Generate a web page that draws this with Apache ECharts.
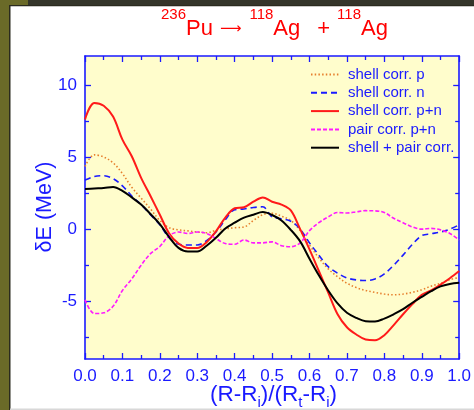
<!DOCTYPE html>
<html>
<head>
<meta charset="utf-8">
<script src="https://cdn.jsdelivr.net/npm/echarts@6/dist/echarts.min.js"></script>
<style>
  html, body { margin: 0; padding: 0; background: #ffffff; }
  #chart { width: 474px; height: 410px; }
</style>
</head>
<body>
<div id="chart"></div>
<script>
// Normalised separation (R-Ri)/(Rt-Ri)
const xs = [0.000, 0.025, 0.050, 0.075, 0.100, 0.125, 0.150, 0.175, 0.200, 0.225,
            0.250, 0.275, 0.300, 0.325, 0.350, 0.375, 0.400, 0.425, 0.450, 0.475,
            0.500, 0.525, 0.550, 0.575, 0.600, 0.625, 0.650, 0.675, 0.700, 0.725,
            0.750, 0.775, 0.800, 0.825, 0.850, 0.875, 0.900, 0.925, 0.950, 0.975, 1.000];

// Energy corrections in MeV
const shellP = [4.35, 5.15, 5.00, 4.60, 3.85, 2.90, 2.15, 1.40, 0.60, 0.10,
                -0.05, -0.12, -0.20, -0.25, -0.08, 0.02, 0.10, 0.15, 0.60, 1.00,
                1.10, 0.90, 0.60, -0.10, -1.10, -2.00, -2.75, -3.30, -3.75, -4.05,
                -4.25, -4.38, -4.50, -4.55, -4.50, -4.38, -4.20, -3.95, -3.75, -3.50, -3.35];

const shellN = [3.40, 3.65, 3.70, 3.50, 3.00, 2.30, 1.70, 1.00, 0.30, -0.60,
                -1.05, -1.10, -1.10, -0.80, -0.20, 0.65, 1.35, 1.40, 1.50, 1.55,
                0.85, 0.72, 0.55, 0.00, -0.95, -1.80, -2.60, -3.05, -3.38, -3.52,
                -3.56, -3.45, -3.10, -2.50, -1.80, -1.05, -0.45, -0.32, -0.20, 0.00, 0.30];

const shellPN = [7.60, 8.75, 8.55, 7.80, 6.20, 5.05, 3.55, 2.30, 1.00, -0.30,
                 -1.00, -1.30, -1.30, -0.90, -0.15, 0.80, 1.45, 1.52, 1.90, 2.20,
                 1.90, 1.70, 1.30, 0.00, -1.40, -2.90, -4.40, -5.90, -6.80, -7.30,
                 -7.65, -7.70, -7.35, -6.65, -5.90, -5.20, -4.55, -4.25, -3.85, -3.40, -2.90];

const pairPN = [-4.90, -5.85, -5.80, -5.35, -4.25, -3.45, -2.50, -1.70, -1.20, -0.45,
                -0.20, -0.30, -0.20, -0.30, -0.65, -1.00, -1.05, -0.75, -0.95, -0.95,
                -0.88, -1.15, -1.22, -0.95, -0.10, 0.45, 0.85, 1.15, 1.12, 1.20,
                1.28, 1.27, 1.15, 0.75, 0.45, 0.15, 0.00, 0.05, -0.05, -0.30, -0.75];

const total = [2.78, 2.82, 2.85, 2.92, 2.65, 2.20, 1.70, 1.05, 0.35, -0.55,
               -1.30, -1.55, -1.55, -1.15, -0.60, 0.05, 0.45, 0.80, 1.00, 1.18,
               0.98, 0.60, -0.05, -0.85, -2.05, -3.20, -4.25, -5.15, -5.80, -6.15,
               -6.38, -6.40, -6.20, -5.90, -5.55, -5.10, -4.70, -4.30, -3.97, -3.80, -3.72];

const seriesNames = ['shell corr. p', 'shell corr. n', 'shell corr. p+n', 'pair corr. p+n', 'shell + pair corr.'];
const yMajorTicks = [-5, 0, 5, 10];
const yMinorTicks = [-7.5, -2.5, 2.5, 7.5];

const AXIS_BLUE = '#1a1aff';
const FONT = '"Liberation Sans", Arial, Helvetica, sans-serif';

const pairs = ys => xs.map((x, i) => [x, ys[i]]);

const chart = echarts.init(document.getElementById('chart'), null, { renderer: 'canvas' });

function yAxisDef(pos, ticks, len, withLabels, withLine) {
  return {
    type: 'value', position: pos, min: -9, max: 12,
    axisLine: { show: withLine, onZero: false, lineStyle: { color: AXIS_BLUE, width: 1.6 } },
    axisTick: { show: true, inside: true, length: len, customValues: ticks,
                lineStyle: { color: AXIS_BLUE, width: 1.3 } },
    axisLabel: withLabels
      ? { show: true, customValues: ticks, color: AXIS_BLUE, fontSize: 17, fontFamily: FONT, margin: 8 }
      : { show: false },
    splitLine: { show: false }
  };
}

function xAxisDef(pos, withLabels) {
  return {
    type: 'value', position: pos, min: 0, max: 1, interval: 0.1,
    axisLine: { show: true, onZero: false, lineStyle: { color: AXIS_BLUE, width: 1.6 } },
    axisTick: { show: true, inside: true, length: 6, lineStyle: { color: AXIS_BLUE, width: 1.3 } },
    minorTick: { show: true, splitNumber: 2, length: 4, lineStyle: { color: AXIS_BLUE, width: 1.3 } },
    axisLabel: withLabels
      ? { show: true, color: AXIS_BLUE, fontSize: 17, fontFamily: FONT, margin: 9,
          formatter: v => v.toFixed(1) }
      : { show: false },
    splitLine: { show: false }
  };
}

const option = {
  animation: false,
  backgroundColor: '#ffffff',
  textStyle: { fontFamily: FONT },
  graphic: [
    // page frame
    { type: 'rect', shape: { x: 0, y: 0, width: 9, height: 410 }, style: { fill: '#6a6a28' } },
    { type: 'rect', shape: { x: 0, y: 0, width: 28, height: 5 }, style: { fill: '#6a6a28' } },
    { type: 'rect', shape: { x: 28, y: 0, width: 446, height: 5 }, style: { fill: '#34352a' } },
    { type: 'rect', shape: { x: 9, y: 5, width: 1.5, height: 405 }, style: { fill: '#2a2a1e' } },
    { type: 'rect', shape: { x: 9, y: 5, width: 465, height: 1.2 }, style: { fill: '#2a2a1e' } },
    { type: 'rect', shape: { x: 10, y: 408.5, width: 464, height: 1.5 }, style: { fill: '#d8d8d8' } },
    // reaction title
    {
      type: 'text', left: 161, top: 7,
      style: {
        text: '{s|236}{m|Pu}{a|⟶}{s|118}{m|Ag}{p|+}{s|118}{m|Ag}',
        rich: {
          m: { fontSize: 22, fill: '#ff0000', fontFamily: FONT, lineHeight: 33, verticalAlign: 'bottom' },
          s: { fontSize: 15, fill: '#ff0000', fontFamily: FONT, lineHeight: 33, verticalAlign: 'top' },
          p: { fontSize: 22, fill: '#ff0000', fontFamily: FONT, lineHeight: 33, verticalAlign: 'bottom',
               padding: [0, 7, 0, 17] },
          a: { fontSize: 15, fill: '#ff0000', fontFamily: '"DejaVu Sans", sans-serif', lineHeight: 33,
               verticalAlign: 'bottom', padding: [0, 8, 3, 7] }
        }
      }
    },
    // x axis title
    {
      type: 'text', left: 210, top: 383,
      style: {
        text: '{m|(R-R}{b|i}{m|)/(R}{b|t}{m|-R}{b|i}{m|)}',
        rich: {
          m: { fontSize: 22.5, fill: AXIS_BLUE, fontFamily: FONT, lineHeight: 27, verticalAlign: 'top' },
          b: { fontSize: 15, fill: AXIS_BLUE, fontFamily: FONT, lineHeight: 27, verticalAlign: 'bottom' }
        }
      }
    },
    // y axis title
    {
      type: 'text', x: 45, y: 207, rotation: Math.PI / 2,
      style: {
        text: 'δE (MeV)', fill: AXIS_BLUE, fontSize: 21.5, fontFamily: FONT,
        align: 'center', verticalAlign: 'middle'
      }
    }
  ],
  grid: {
    left: 85, right: 10, top: 56, bottom: 51,
    show: true, backgroundColor: '#fffdcc', borderWidth: 0
  },
  legend: {
    orient: 'vertical', left: 310, top: 67, padding: 0,
    itemWidth: 28, itemHeight: 14, itemGap: 3.3,
    data: seriesNames,
    itemStyle: { opacity: 0 },
    textStyle: { color: AXIS_BLUE, fontSize: 15, fontFamily: FONT, padding: [0, 0, 0, 4] }
  },
  xAxis: [xAxisDef('bottom', true), xAxisDef('top', false)],
  yAxis: [
    yAxisDef('left', yMajorTicks, 6, true, true),
    yAxisDef('left', yMinorTicks, 4, false, false),
    yAxisDef('right', yMajorTicks, 6, false, true),
    yAxisDef('right', yMinorTicks, 4, false, false)
  ],
  series: [
    { name: seriesNames[0], type: 'line', data: pairs(shellP), symbol: 'none', smooth: 0.35,
      lineStyle: { color: '#e6802e', width: 1.6, type: [1.5, 2.2] }, itemStyle: { color: '#e6802e' } },
    { name: seriesNames[1], type: 'line', data: pairs(shellN), symbol: 'none', smooth: 0.35,
      lineStyle: { color: '#1a1aff', width: 1.6, type: [6, 4] }, itemStyle: { color: '#1a1aff' } },
    { name: seriesNames[2], type: 'line', data: pairs(shellPN), symbol: 'none', smooth: 0.35,
      lineStyle: { color: '#ff1a1a', width: 2 }, itemStyle: { color: '#ff1a1a' } },
    { name: seriesNames[3], type: 'line', data: pairs(pairPN), symbol: 'none', smooth: 0.35,
      lineStyle: { color: '#ff1aff', width: 1.6, type: [4, 2] }, itemStyle: { color: '#ff1aff' } },
    { name: seriesNames[4], type: 'line', data: pairs(total), symbol: 'none', smooth: 0.35,
      lineStyle: { color: '#000000', width: 2 }, itemStyle: { color: '#000000' } }
  ]
};

chart.setOption(option);
</script>
</body>
</html>
